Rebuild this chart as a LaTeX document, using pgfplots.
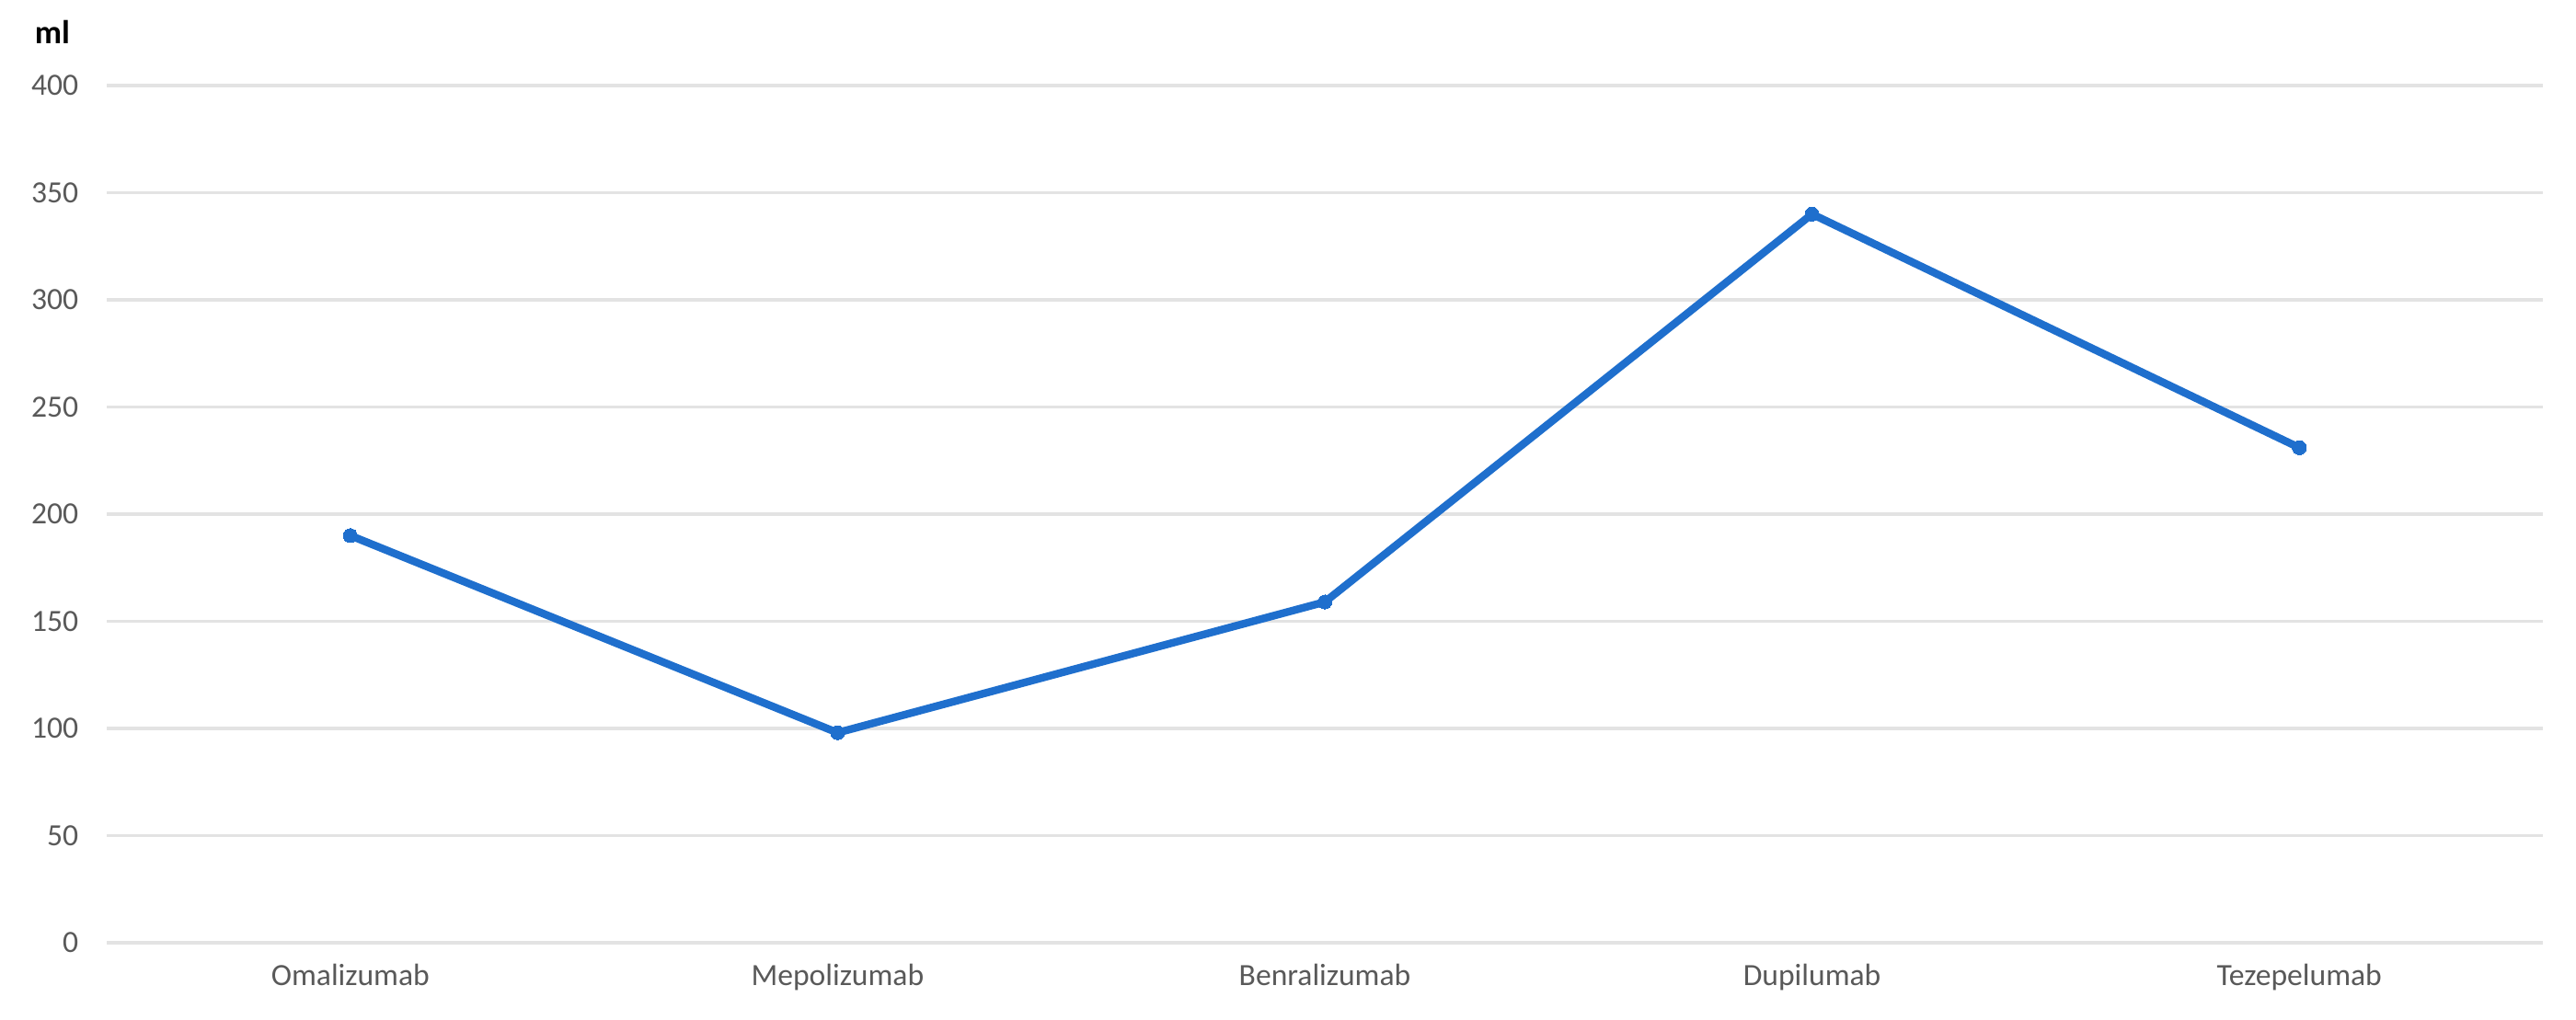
\documentclass[border=0pt]{standalone}
\usepackage{fontspec}
\setmainfont{Carlito}
\usepackage{pgfplots}
\pgfplotsset{compat=1.18}
\definecolor{lineblue}{HTML}{1F6FCD}
\definecolor{ticktext}{HTML}{595959}
\definecolor{gridgray}{HTML}{E3E3E3}
\begin{document}
\begin{tikzpicture}
\path[use as bounding box] (-29pt,-21pt) rectangle (671pt,256.25pt);
\begin{axis}[
  at={(0,0)}, anchor=south west,
  scale only axis,
  width=662pt, height=233pt,
  xmin=-0.5, xmax=4.5,
  ymin=0, ymax=400,
  xtick={0,1,2,3,4},
  xticklabels={Omalizumab,Mepolizumab,Benralizumab,Dupilumab,Tezepelumab},
  ytick={0,50,...,400},
  ymajorgrids,
  major grid style={color=gridgray, line width=0.8pt},
  axis line style={draw=none},
  tick style={draw=none},
  ticklabel style={font=\fontsize{8.4}{9}\selectfont, text=ticktext},
  /pgf/number format/assume math mode=true,
  yticklabel style={inner sep=0pt, anchor=east, xshift=-7.5pt},
  xticklabel style={inner sep=0pt, anchor=north, yshift=-5.5pt},
  clip=false,
]
\addplot[color=lineblue, line width=2.1pt, line join=round, mark=*, mark size=1.9pt, mark options={fill=lineblue, draw=lineblue, line width=0pt}]
  coordinates {(0,190) (1,98) (2,159) (3,340) (4,231)};
\end{axis}
\node[font=\fontsize{9}{10}\selectfont\bfseries] at (-14.75pt,247.5pt) {ml};
\end{tikzpicture}
\end{document}
